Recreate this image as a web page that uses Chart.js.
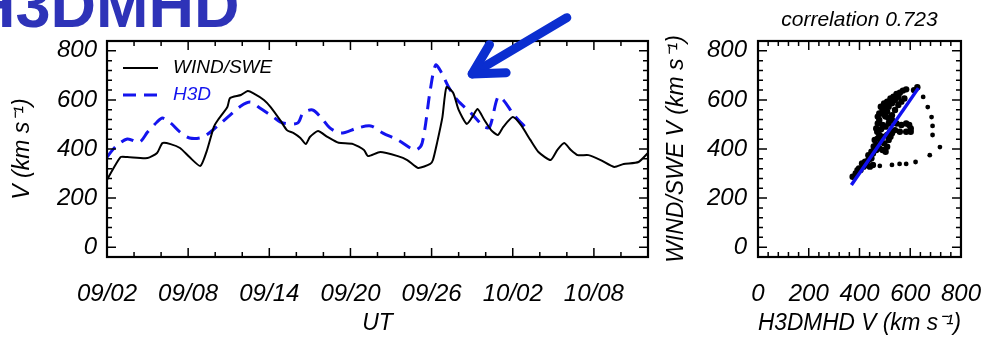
<!DOCTYPE html>
<html>
<head>
<meta charset="utf-8">
<script src="https://cdn.jsdelivr.net/npm/chart.js@4.4.1/dist/chart.umd.min.js"></script>
<style>
  body { margin: 0; background: #fff; width: 1004px; height: 339px; overflow: hidden; position: relative; }
  canvas { position: absolute; top: 0; }
  #ts { left: 0; }
  #sc { left: 660px; }
</style>
</head>
<body>
<canvas id="ts" width="660" height="339"></canvas>
<canvas id="sc" width="344" height="339"></canvas>
<script>
// time series, x = days after 09/02 00 UT
const windDay = [0,1.0,1.5,3.0,3.7,4.1,4.7,5.4,6.1,6.9,7.4,7.9,8.2,8.9,9.1,9.9,10.4,10.8,11.6,12.1,12.8,13.3,13.8,14.3,14.7,15.0,15.6,16.3,17.0,17.3,18.2,19.0,19.3,20.2,21.5,22.2,23.0,23.9,24.1,24.4,24.8,25.1,25.6,26.0,26.6,27.0,27.4,27.9,28.4,28.9,29.3,30.0,30.6,31.3,31.9,32.8,33.3,33.8,34.3,34.8,35.6,36.5,37.5,38.2,39.3,40.0];
const windV = [275,367,367,363,384,424,420,404,367,331,396,490,518,571,608,620,636,628,600,571,518,477,465,445,420,449,473,449,428,424,420,396,371,388,371,355,323,339,355,424,530,652,628,559,502,530,563,518,477,457,490,530,498,437,388,355,396,424,396,375,375,355,327,339,347,384];

const h3dDay = [0,0.6,1.5,2.4,3.0,3.7,4.1,4.7,5.4,6.1,7.1,8.1,9.1,9.9,10.6,11.3,12.3,13.0,14.1,14.5,15.2,15.8,16.5,17.3,18.5,19.5,20.4,21.5,22.8,23.3,23.9,24.3,24.7,25.3,25.9,26.9,27.9,28.3,28.9,29.3,30.1,31.0];
const h3dV = [367,408,441,428,469,510,526,506,469,445,449,490,538,575,591,567,530,506,506,547,559,530,485,465,485,494,465,437,396,424,640,742,714,648,600,547,490,490,612,600,538,485];

const dateTickDays = [0,6,12,18,24,30,36];
const dateTickLabels = ['09/02','09/08','09/14','09/20','09/26','10/02','10/08'];
const speedTicks = [0,200,400,600,800];

// scatter: [H3DMHD V, WIND/SWE V]
const scatterPts = [
  [373,287],[392,314],[404,314],[398,321],[416,328],[429,335],[441,328],[453,335],
  [410,341],[422,348],[435,355],[447,362],[435,375],[447,389],[453,382],[460,403],
  [466,416],[466,396],[478,403],[491,396],[503,389],[509,409],[497,423],[484,430],
  [460,437],[472,443],[478,457],[491,450],[509,457],[515,437],[522,450],[528,464],
  [522,470],[540,477],[559,470],[584,470],[602,470],[602,484],[596,498],[584,504],
  [565,498],[546,504],[528,518],[515,525],[503,532],[509,552],[491,498],[503,491],
  [515,504],[466,484],[472,504],[478,518],[472,532],[478,545],[491,559],[484,572],
  [497,586],[509,593],[522,606],[534,613],[546,624],[559,629],[571,638],[584,643],
  [553,613],[540,600],[528,586],[515,572],[528,538],[540,559],[553,579],[565,593],
  [577,606],[615,640],[628,652],[385,300],[420,340],[441,360],[456,410],[470,470],
  [485,480],[497,540],[505,575],[520,590]
];
const scatterSparse = [
  [480,331],[528,335],[558,339],[584,339],[621,347],[677,375],[717,408],[688,457],
  [688,494],[684,530],[669,571],[651,612]
];
const fitLine = [[368,253],[632,648]];

const FONT = 'Liberation Sans';
const tickFont = { family: FONT, size: 24, style: 'italic' };
const titleFont = { family: FONT, size: 23, style: 'italic' };

function range(a, b, step) {
  const out = [];
  for (let v = a; v <= b + 1e-9; v += step) out.push(v);
  return out;
}

// IDL style box with inward ticks on all four sides
const boxTicks = {
  id: 'boxTicks',
  afterDatasetsDraw(chart, args, opts) {
    const { ctx, chartArea: a, scales } = chart;
    ctx.save();
    ctx.strokeStyle = '#000';
    ctx.lineWidth = 1.5;
    ctx.beginPath();
    const mark = (scale, v, len) => {
      const p = scale.getPixelForValue(v);
      if (scale.isHorizontal()) {
        ctx.moveTo(p, a.bottom); ctx.lineTo(p, a.bottom - len);
        ctx.moveTo(p, a.top); ctx.lineTo(p, a.top + len);
      } else {
        ctx.moveTo(a.left, p); ctx.lineTo(a.left + len, p);
        ctx.moveTo(a.right, p); ctx.lineTo(a.right - len, p);
      }
    };
    ['x', 'y'].forEach(k => {
      const o = opts[k];
      o.minor.forEach(v => mark(scales[k], v, opts.minorLen));
      o.major.forEach(v => mark(scales[k], v, opts.majorLen));
    });
    ctx.stroke();
    ctx.lineWidth = 2.2;
    ctx.strokeRect(a.left, a.top, a.right - a.left, a.bottom - a.top);
    ctx.restore();
  }
};

// legend, title and arrow for the time series panel
const tsExtras = {
  id: 'tsExtras',
  afterDraw(chart) {
    const { ctx, chartArea: a, scales: { x, y } } = chart;
    const ds = chart.data.datasets;
    ctx.save();
    ctx.font = 'italic 19px "' + FONT + '"';
    ctx.textBaseline = 'middle';
    ds.forEach((d, i) => {
      const ly = a.top + 27 + i * 27;
      ctx.beginPath();
      ctx.strokeStyle = d.borderColor;
      ctx.lineWidth = d.borderWidth;
      ctx.setLineDash(d.borderDash || []);
      ctx.moveTo(a.left + 16, ly);
      ctx.lineTo(a.left + 51, ly);
      ctx.stroke();
      ctx.setLineDash([]);
      ctx.fillStyle = i === 0 ? '#000' : d.borderColor;
      ctx.fillText(d.label, a.left + 66, ly);
    });

    // big panel title
    ctx.fillStyle = '#2e33b8';
    ctx.font = 'bold 63px "' + FONT + '"';
    ctx.textBaseline = 'alphabetic';
    ctx.fillText('H3DMHD', -30, 27);

    // arrow pointing at the shock arrival
    const tx = x.getPixelForValue(27.0), ty = y.getPixelForValue(706);
    const sx = x.getPixelForValue(34.0), sy = y.getPixelForValue(935);
    const ang = Math.atan2(sy - ty, sx - tx);
    ctx.strokeStyle = '#0b2ed0';
    ctx.lineWidth = 9;
    ctx.lineCap = 'round';
    ctx.lineJoin = 'round';
    ctx.beginPath();
    ctx.moveTo(sx, sy);
    ctx.lineTo(tx, ty);
    ctx.stroke();
    ctx.beginPath();
    ctx.moveTo(tx + 34 * Math.cos(ang - 0.5), ty + 34 * Math.sin(ang - 0.5));
    ctx.lineTo(tx, ty);
    ctx.lineTo(tx + 34 * Math.cos(ang + 0.5), ty + 34 * Math.sin(ang + 0.5));
    ctx.stroke();
    ctx.restore();
  }
};

const scTitle = {
  id: 'scTitle',
  afterDraw(chart) {
    const { ctx, chartArea: a } = chart;
    ctx.save();
    ctx.fillStyle = '#000';
    ctx.font = 'italic 21px "' + FONT + '"';
    ctx.textAlign = 'center';
    ctx.textBaseline = 'middle';
    ctx.fillText('correlation 0.723', (a.left + a.right) / 2, 20);
    ctx.restore();
  }
};

function axis(extra) {
  return Object.assign({
    type: 'linear',
    grid: { display: false, drawTicks: false },
    border: { display: false },
    ticks: { font: tickFont, color: '#000', maxRotation: 0, autoSkip: false }
  }, extra);
}

const yAxisBase = {
  min: -40, max: 840,
  afterBuildTicks: s => { s.ticks = speedTicks.map(v => ({ value: v })); }
};

new Chart(document.getElementById('ts'), {
  type: 'line',
  data: {
    datasets: [
      { label: 'WIND/SWE', data: windDay.map((d, i) => ({ x: d, y: windV[i] })),
        borderColor: '#000', borderWidth: 2, pointRadius: 0, tension: 0.2 },
      { label: 'H3D', data: h3dDay.map((d, i) => ({ x: d, y: h3dV[i] })),
        borderColor: '#1414ee', borderWidth: 3, borderDash: [13, 8], pointRadius: 0, tension: 0.3 }
    ]
  },
  options: {
    responsive: false, animation: false,
    layout: { padding: { top: 41, right: 12, left: 0, bottom: 0 } },
    plugins: {
      legend: { display: false }, tooltip: { enabled: false },
      boxTicks: {
        majorLen: 9, minorLen: 5,
        x: { major: dateTickDays, minor: range(0, 40, 2) },
        y: { major: speedTicks, minor: range(0, 840, 40) }
      }
    },
    scales: {
      x: axis({
        min: 0, max: 40,
        afterBuildTicks: s => { s.ticks = dateTickDays.map(v => ({ value: v })); },
        afterFit: s => { s.height = 82; },
        ticks: { font: tickFont, color: '#000', maxRotation: 0, autoSkip: false, padding: 23,
                 callback: (v, i) => dateTickLabels[i] },
        title: { display: true, text: 'UT', color: '#000', font: titleFont, padding: { top: 0, bottom: 2 } }
      }),
      y: axis(Object.assign({}, yAxisBase, {
        afterFit: s => { s.width = 107; },
        ticks: { font: tickFont, color: '#000', padding: 10 },
        title: { display: true, text: 'V (km s\u207B\u00B9)', color: '#000', font: titleFont, padding: { top: 9, bottom: 0 } }
      }))
    }
  },
  plugins: [boxTicks, tsExtras]
});

new Chart(document.getElementById('sc'), {
  type: 'scatter',
  data: {
    datasets: [
      { type: 'line', data: fitLine.map(p => ({ x: p[0], y: p[1] })), order: -1,
        borderColor: '#1010f0', borderWidth: 3.5, pointRadius: 0 },
      { data: scatterPts.map(p => ({ x: p[0], y: p[1] })),
        backgroundColor: '#000', borderColor: '#000', pointRadius: 3.2, borderWidth: 0 },
      { data: scatterSparse.map(p => ({ x: p[0], y: p[1] })),
        backgroundColor: '#000', borderColor: '#000', pointRadius: 2.4, borderWidth: 0 }
    ]
  },
  options: {
    responsive: false, animation: false,
    layout: { padding: { top: 41, right: 31, left: 0, bottom: 0 } },
    plugins: {
      legend: { display: false }, tooltip: { enabled: false },
      boxTicks: {
        majorLen: 9, minorLen: 5,
        x: { major: speedTicks, minor: range(0, 800, 40) },
        y: { major: speedTicks, minor: range(0, 840, 40) }
      }
    },
    scales: {
      x: axis({
        min: 0, max: 800,
        afterBuildTicks: s => { s.ticks = speedTicks.map(v => ({ value: v })); },
        afterFit: s => { s.height = 82; },
        ticks: { font: tickFont, color: '#000', maxRotation: 0, autoSkip: false, padding: 23 },
        title: { display: true, text: 'H3DMHD V (km s\u207B\u00B9)', color: '#000', font: titleFont, padding: { top: 0, bottom: 2 } }
      }),
      y: axis(Object.assign({}, yAxisBase, {
        afterFit: s => { s.width = 98; },
        ticks: { font: tickFont, color: '#000', padding: 11 },
        title: { display: true, text: 'WIND/SWE V (km s\u207B\u00B9)', color: '#000', font: titleFont, padding: { top: 3, bottom: 0 } }
      }))
    }
  },
  plugins: [boxTicks, scTitle]
});
</script>
</body>
</html>
